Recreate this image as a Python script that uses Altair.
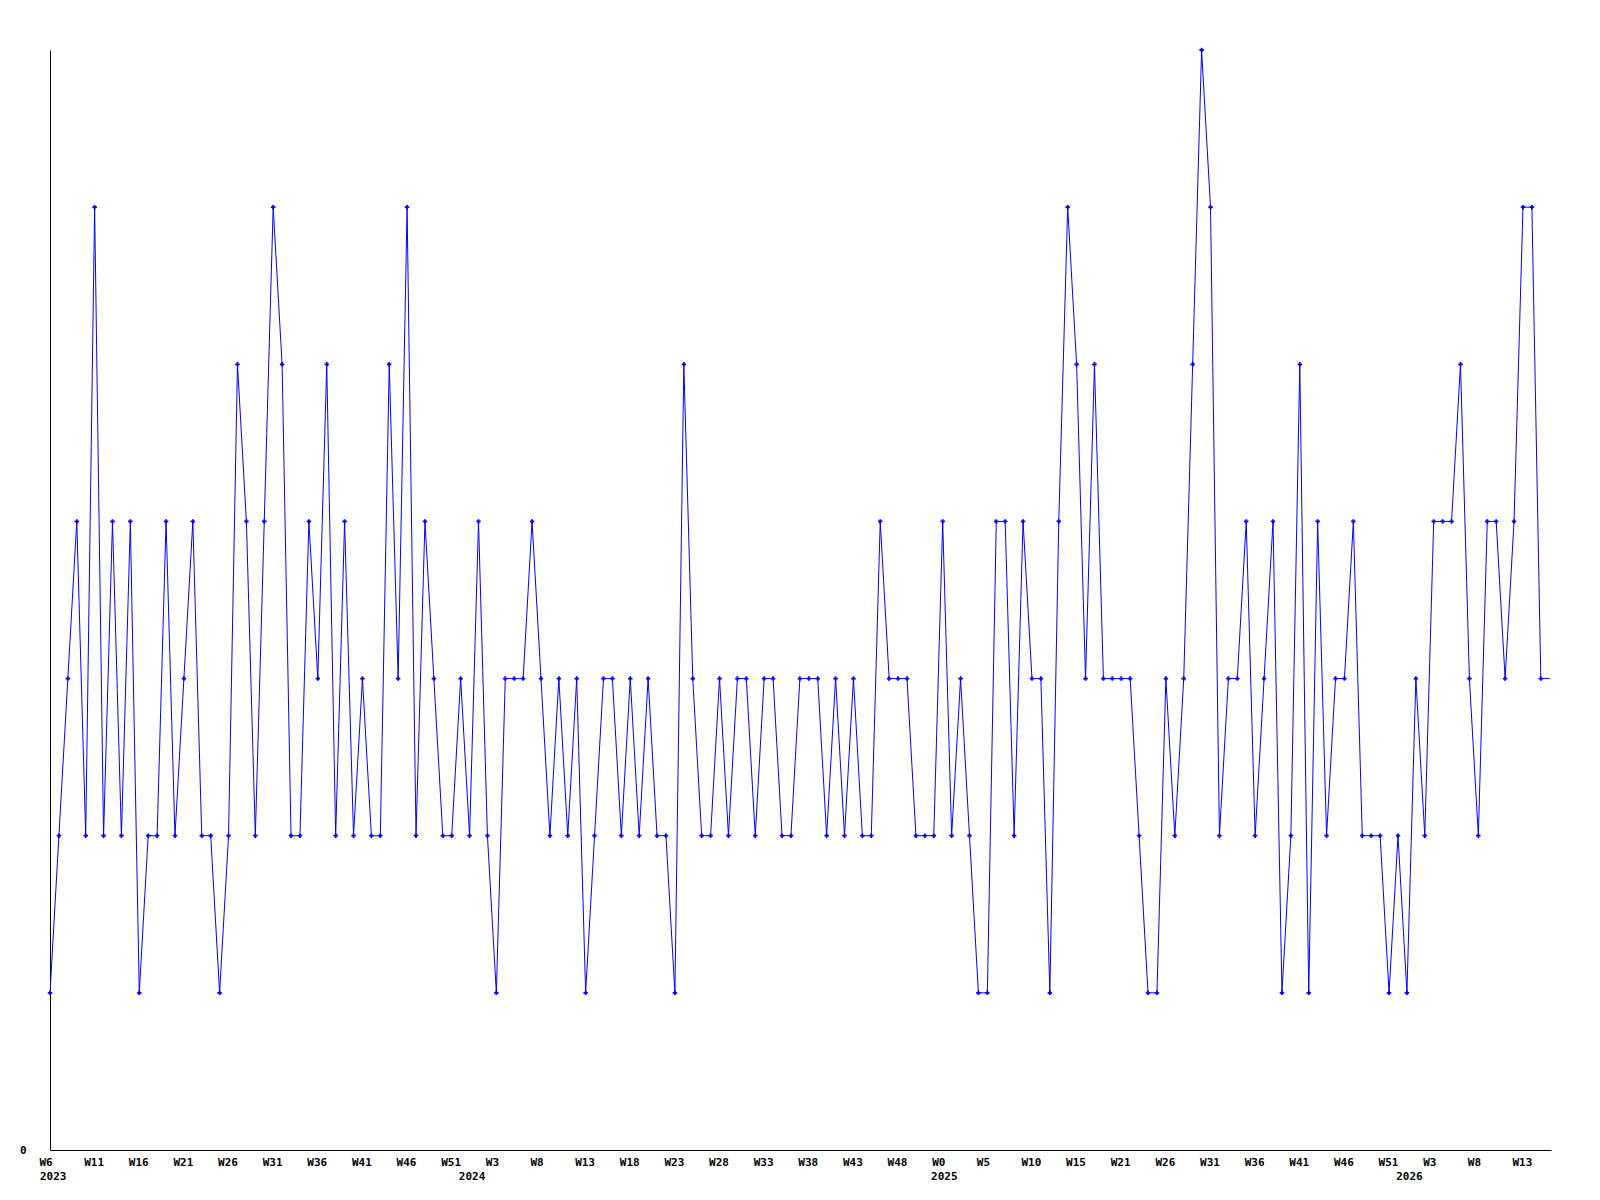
import json
import altair as alt
import pandas as pd

# weekly values, index 0 = W6 2023 ... index 167 = last visible point; final value continues off the edge
values = [
    1, 2, 3, 4, 2, 6, 2, 4, 2, 4, 1, 2, 2, 4, 2, 3, 4, 2, 2, 1, 2, 5, 4, 2, 4, 6, 5, 2,
    2, 4, 3, 5, 2, 4, 2, 3, 2, 2, 5, 3, 6, 2, 4, 3, 2, 2, 3, 2, 4, 2, 1, 3, 3, 3, 4, 3,
    2, 3, 2, 3, 1, 2, 3, 3, 2, 3, 2, 3, 2, 2, 1, 5, 3, 2, 2, 3, 2, 3, 3, 2, 3, 3, 2, 2,
    3, 3, 3, 2, 3, 2, 3, 2, 2, 4, 3, 3, 3, 2, 2, 2, 4, 2, 3, 2, 1, 1, 4, 4, 2, 4, 3, 3,
    1, 4, 6, 5, 3, 5, 3, 3, 3, 3, 2, 1, 1, 3, 2, 3, 5, 7, 6, 2, 3, 3, 4, 2, 3, 4, 1, 2,
    5, 1, 4, 2, 3, 3, 4, 2, 2, 2, 1, 2, 1, 3, 2, 4, 4, 4, 5, 3, 2, 4, 4, 3, 4, 6, 6, 3,
    3,
]
n_marked = 168

tick_labels = [
    "W6", "W11", "W16", "W21", "W26", "W31", "W36", "W41", "W46", "W51",
    "W3", "W8", "W13", "W18", "W23", "W28", "W33", "W38", "W43", "W48",
    "W0", "W5", "W10", "W15", "W21", "W26", "W31", "W36", "W41", "W46", "W51",
    "W3", "W8", "W13",
]
tick_step = 5

year_labels = ["2023", "2024", "2025", "2026"]
year_pos = [-1.12, 45.8, 98.7, 150.8]  # in week-index units (label left edge)

df = pd.DataFrame({"week": list(range(len(values))), "count": values})
df_pts = df[df["week"] < n_marked]
df_years = pd.DataFrame({"pos": year_pos, "year": year_labels})

FONT = "DejaVu Sans Mono"
x_scale = alt.Scale(domain=[0, 168.14], nice=False, zero=False)
y_scale = alt.Scale(domain=[0, 7], nice=False, zero=True)

label_expr = json.dumps(tick_labels) + "[round(datum.value / %d)]" % tick_step

x_axis = alt.Axis(
    values=list(range(0, tick_step * len(tick_labels), tick_step)),
    labelExpr=label_expr,
    grid=False, ticks=False, tickSize=0,
    domainColor="black", domainWidth=1,
    labelAlign="left", labelOffset=-11, labelBaseline="top", labelPadding=6,
    labelFont=FONT, labelFontWeight="bold", labelFontSize=11, labelColor="black",
    labelOverlap=False, labelFlush=False, title=None,
)
y_axis = alt.Axis(
    values=[0], format="d", grid=False, ticks=False, tickSize=0,
    domainColor="black", domainWidth=1,
    labelPadding=24, labelBaseline="middle",
    labelFont=FONT, labelFontWeight="bold", labelFontSize=11, labelColor="black",
    title=None,
)

line = alt.Chart(df).mark_line(color="#0000ff", strokeWidth=1, clip=True).encode(
    x=alt.X("week:Q", scale=x_scale, axis=x_axis, title=None),
    y=alt.Y("count:Q", scale=y_scale, axis=y_axis, title=None),
)
points = alt.Chart(df_pts).mark_point(
    shape="cross", filled=True, size=20, color="#0000ff", opacity=1
).encode(
    x=alt.X("week:Q", scale=x_scale, title=None),
    y=alt.Y("count:Q", scale=y_scale, title=None),
)
years = alt.Chart(df_years).mark_text(
    align="left", baseline="top", font=FONT, fontWeight="bold", fontSize=11, color="black"
).encode(
    x=alt.X("pos:Q", scale=x_scale, title=None),
    y=alt.value(1121),
    text="year:N",
)

chart = (
    alt.layer(line, points, years)
    .properties(
        width=1501, height=1100,
        autosize=alt.AutoSizeParams(type="none"),
        padding={"left": 42, "top": 42, "right": 41, "bottom": 50},
        background="white",
    )
    .configure_view(stroke=None)
)

chart.save("out.html", embed_options={"renderer": "svg", "actions": False})
